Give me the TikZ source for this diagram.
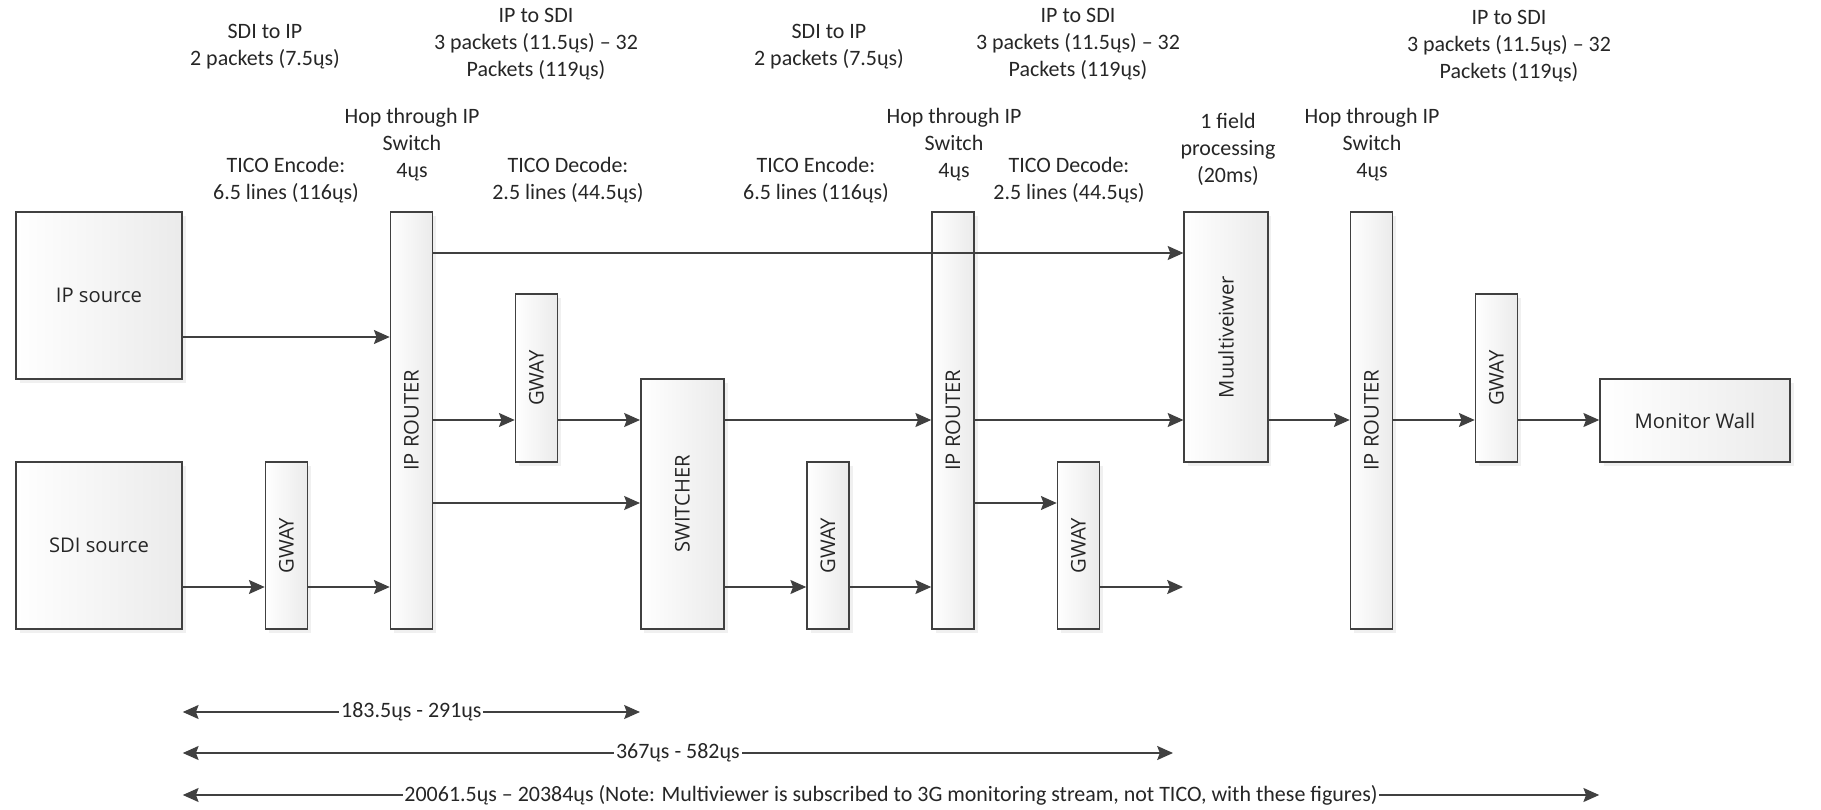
\documentclass[tikz,border=0pt]{standalone}
\usepackage{fontspec}
\setmainfont{Carlito}
\newfontfamily\boxfont{Open Sans}
\usetikzlibrary{arrows.meta, shadows}
\definecolor{linegray}{HTML}{404040}
\definecolor{inkgray}{HTML}{262626}

\begin{document}
\begin{tikzpicture}[
    blk/.style={draw=linegray, line width=0.9pt, left color=white, right color=black!8, drop shadow={opacity=0.12, shadow xshift=2pt, shadow yshift=-2pt}, inner sep=0pt, font={\boxfont\fontsize{11.5}{13}\selectfont}, text=inkgray},
    src/.style={blk, minimum width=3.32cm, minimum height=3.34cm},
    gway/.style={blk, minimum width=0.84cm, minimum height=#1},
    gway/.default=3.34cm,
    router/.style={blk, minimum width=0.84cm, minimum height=8.34cm},
    unit/.style={blk, minimum width=1.67cm, minimum height=5cm},
    note/.style={font={\fontsize{12.5}{15.4}\selectfont}, align=center, text=inkgray},
    arr/.style={-{Stealth[length=9pt, width=8pt, inset=1.5pt]}, line width=0.8pt, linegray},
    dimarr/.style={{Stealth[length=9pt, width=8pt, inset=1.5pt]}-{Stealth[length=9pt, width=8pt, inset=1.5pt]}, line width=0.8pt, linegray},
    dimlbl/.style={fill=white, inner xsep=1pt, inner ysep=1pt, font={\fontsize{12.5}{15}\selectfont}, text=inkgray},
]

\path[use as bounding box] (0,0) rectangle (36.42,16.18);

% signal rows
\coordinate (r1) at (0, 11.12);
\coordinate (r2) at (0, 9.44);
\coordinate (r3) at (0, 7.78);
\coordinate (r4) at (0, 6.12);
\coordinate (r5) at (0, 4.44);
\coordinate (dim1) at (0, 1.94);
\coordinate (dim2) at (0, 1.12);
\coordinate (dim3) at (0, 0.28);

% --- Timing notes ---
\node[note] (sdiip1) at (5.30, 15.24) {SDI to IP\\2 packets (7.5ųs)};
\node[note] (ipsdi1) at (10.72, 15.30) {IP to SDI\\3 packets (11.5ųs) – 32\\Packets (119ųs)};
\node[note] (hop1) at (8.24, 13.28) {Hop through IP\\Switch\\4ųs};
\node[note] (enc1) at (5.72, 12.58) {TICO Encode:\\6.5 lines (116ųs)};
\node[note] (dec1) at (11.36, 12.58) {TICO Decode:\\2.5 lines (44.5ųs)};

\node[note] (sdiip2) at (16.58, 15.24) {SDI to IP\\2 packets (7.5ųs)};
\node[note] (ipsdi2) at (21.56, 15.30) {IP to SDI\\3 packets (11.5ųs) – 32\\Packets (119ųs)};
\node[note] (hop2) at (19.08, 13.28) {Hop through IP\\Switch\\4ųs};
\node[note] (enc2) at (16.32, 12.58) {TICO Encode:\\6.5 lines (116ųs)};
\node[note] (dec2) at (21.38, 12.58) {TICO Decode:\\2.5 lines (44.5ųs)};

\node[note] (field) at (24.56, 13.20) {1 field\\processing\\(20ms)};
\node[note] (ipsdi3) at (30.18, 15.26) {IP to SDI\\3 packets (11.5ųs) – 32\\Packets (119ųs)};
\node[note] (hop3) at (27.44, 13.28) {Hop through IP\\Switch\\4ųs};

% --- Sources ---
\node[src] (ipsrc) at (1.98, 10.27) {IP source};
\node[src] (sdisrc) at (1.98, 5.27) {SDI source};
\node[gway] (gw1) at (5.73, 5.27) {\rotatebox{90}{GWAY}};

% --- First hop ---
\node[router] (ipr1) at (8.23, 7.77) {\rotatebox{90}{IP ROUTER}};
\node[gway=3.36cm] (gw2) at (10.73, 8.62) {\rotatebox{90}{GWAY}};
\node[unit] (sw) at (13.65, 6.10) {\rotatebox{90}{SWITCHER}};
\node[gway] (gw3) at (16.56, 5.27) {\rotatebox{90}{GWAY}};

% --- Second hop ---
\node[router] (ipr2) at (19.06, 7.77) {\rotatebox{90}{IP ROUTER}};
\node[gway] (gw4) at (21.57, 5.27) {\rotatebox{90}{GWAY}};
\node[unit] (mv) at (24.52, 9.44) {\rotatebox{90}{Muultiveiwer}};
\coordinate (gwend) at (23.66, 4.44);

% --- Third hop ---
\node[router] (ipr3) at (27.43, 7.77) {\rotatebox{90}{IP ROUTER}};
\node[gway=3.36cm] (gw5) at (29.93, 8.62) {\rotatebox{90}{GWAY}};
\node[blk, minimum width=3.8cm, minimum height=1.66cm] (wall) at (33.90, 7.77) {Monitor Wall};

% connectors
\draw[arr] (ipsrc.east |- r2) -- (ipr1.west |- r2);
\draw[arr] (sdisrc.east |- r5) -- (gw1.west |- r5);
\draw[arr] (gw1.east |- r5) -- (ipr1.west |- r5);
\draw[arr] (ipr1.east |- r1) -- (mv.west |- r1);
\draw[arr] (ipr1.east |- r3) -- (gw2.west |- r3);
\draw[arr] (gw2.east |- r3) -- (sw.west |- r3);
\draw[arr] (ipr1.east |- r4) -- (sw.west |- r4);
\draw[arr] (sw.east |- r3) -- (ipr2.west |- r3);
\draw[arr] (sw.east |- r5) -- (gw3.west |- r5);
\draw[arr] (gw3.east |- r5) -- (ipr2.west |- r5);
\draw[arr] (ipr2.east |- r3) -- (mv.west |- r3);
\draw[arr] (ipr2.east |- r4) -- (gw4.west |- r4);
\draw[arr] (gw4.east |- r5) -- (gwend);
\draw[arr] (mv.east |- r3) -- (ipr3.west |- r3);
\draw[arr] (ipr3.east |- r3) -- (gw5.west |- r3);
\draw[arr] (gw5.east |- r3) -- (wall.west |- r3);

% --- End to end latency ---
\coordinate (d2end) at (23.46, 1.12);
\draw[dimarr] (ipsrc.east |- dim1) -- (sw.west |- dim1) node[dimlbl, midway] (lat1) {183.5ųs - 291ųs};
\draw[dimarr] (ipsrc.east |- dim2) -- (d2end) node[dimlbl, midway] (lat2) {367ųs - 582ųs};
\draw[dimarr] (ipsrc.east |- dim3) -- (wall.west |- dim3) node[dimlbl, midway] (lat3) {20061.5ųs – 20384ųs (Note: Multiviewer is subscribed to 3G monitoring stream, not TICO, with these figures)};

\end{tikzpicture}
\end{document}
